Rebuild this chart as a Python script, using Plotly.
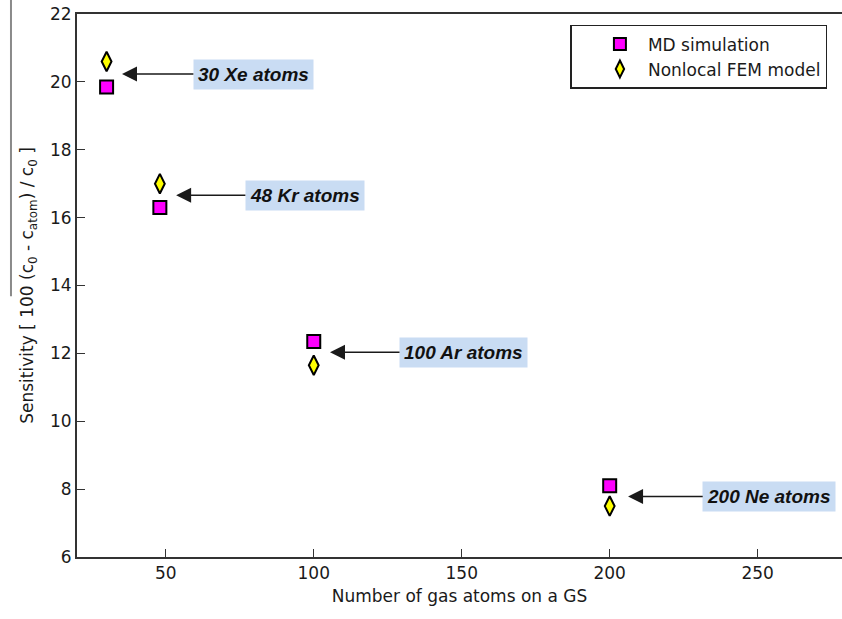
import plotly.graph_objects as go

# Data
atoms = [30, 48, 100, 200]
md_sensitivity = [19.85, 16.3, 12.35, 8.1]
fem_sensitivity = [20.6, 17.0, 11.65, 7.5]
labels = ["30 Xe atoms", "48 Kr atoms", "100 Ar atoms", "200 Ne atoms"]

# annotation layout (arrow tip and text box centre, data coords)
tip_x = [35.2, 53.5, 105.5, 206.2]
tip_y = [20.23, 16.66, 12.03, 7.78]
box_x = [79.6, 97.0, 150.6, 253.9]

BASE = "DejaVu Sans, Verdana, sans-serif"

fig = go.Figure()
fig.add_trace(go.Scatter(
    x=atoms, y=md_sensitivity, mode="markers", name="MD simulation",
    legendgroup="a",
    marker=dict(symbol="square", size=13, color="#ff00ff",
                line=dict(color="black", width=2))))
fig.add_trace(go.Scatter(
    x=atoms, y=fem_sensitivity, mode="markers", name="Nonlocal FEM model",
    legendgroup="b",
    marker=dict(symbol="diamond-tall", size=14, color="#ffff00",
                line=dict(color="black", width=2))))

for lab, tx, ty, bx in zip(labels, tip_x, tip_y, box_x):
    fig.add_annotation(
        x=tx, y=ty, ax=bx, ay=ty, xref="x", yref="y", axref="x", ayref="y",
        text="<b><i>" + lab + "</i></b>", showarrow=True,
        arrowhead=2, arrowsize=2.0, arrowwidth=1.5, arrowcolor="#1a1a1a",
        bgcolor="#c9dcf3", borderpad=4,
        font=dict(family="Liberation Sans, Arial", size=19, color="#111111"))

# scan artifact line at left
fig.add_shape(type="line", xref="paper", yref="paper",
              x0=-0.0863, x1=-0.0863, y0=1.03, y1=0.48,
              line=dict(color="#8a8a8a", width=2))

fig.update_layout(
    width=842, height=619,
    margin=dict(l=77, r=0, t=14, b=62),
    plot_bgcolor="white", paper_bgcolor="white",
    font=dict(family=BASE, size=17, color="#1a1a1a"),
    showlegend=True,
    legend=dict(x=0.645, y=0.98, xanchor="left", yanchor="top",
                bgcolor="white", bordercolor="#222222", borderwidth=1.5,
                font=dict(family=BASE, size=17), itemsizing="constant",
                traceorder="grouped", tracegroupgap=0,
                indentation=20, itemwidth=46),
    xaxis=dict(range=[20, 278.5], tickvals=[50, 100, 150, 200, 250],
               showgrid=False, zeroline=False, showline=True,
               linecolor="#333333", linewidth=2, mirror=True,
               ticks="inside", ticklen=8, tickcolor="#333333",
               tickfont=dict(size=17),
               title=dict(text="Number of gas atoms on a GS",
                          font=dict(size=17), standoff=8)),
    yaxis=dict(range=[6, 22], tickvals=[6, 8, 10, 12, 14, 16, 18, 20, 22],
               showgrid=False, zeroline=False, showline=True,
               linecolor="#333333", linewidth=2,
               ticks="inside", ticklen=8, tickcolor="#333333",
               tickfont=dict(size=17),
               title=dict(text="Sensitivity [ 100 (c<sub>0</sub> - c<sub>atom</sub>) / c<sub>0</sub> ]",
                          font=dict(size=17), standoff=12)),
)

fig.write_html("out.html")
